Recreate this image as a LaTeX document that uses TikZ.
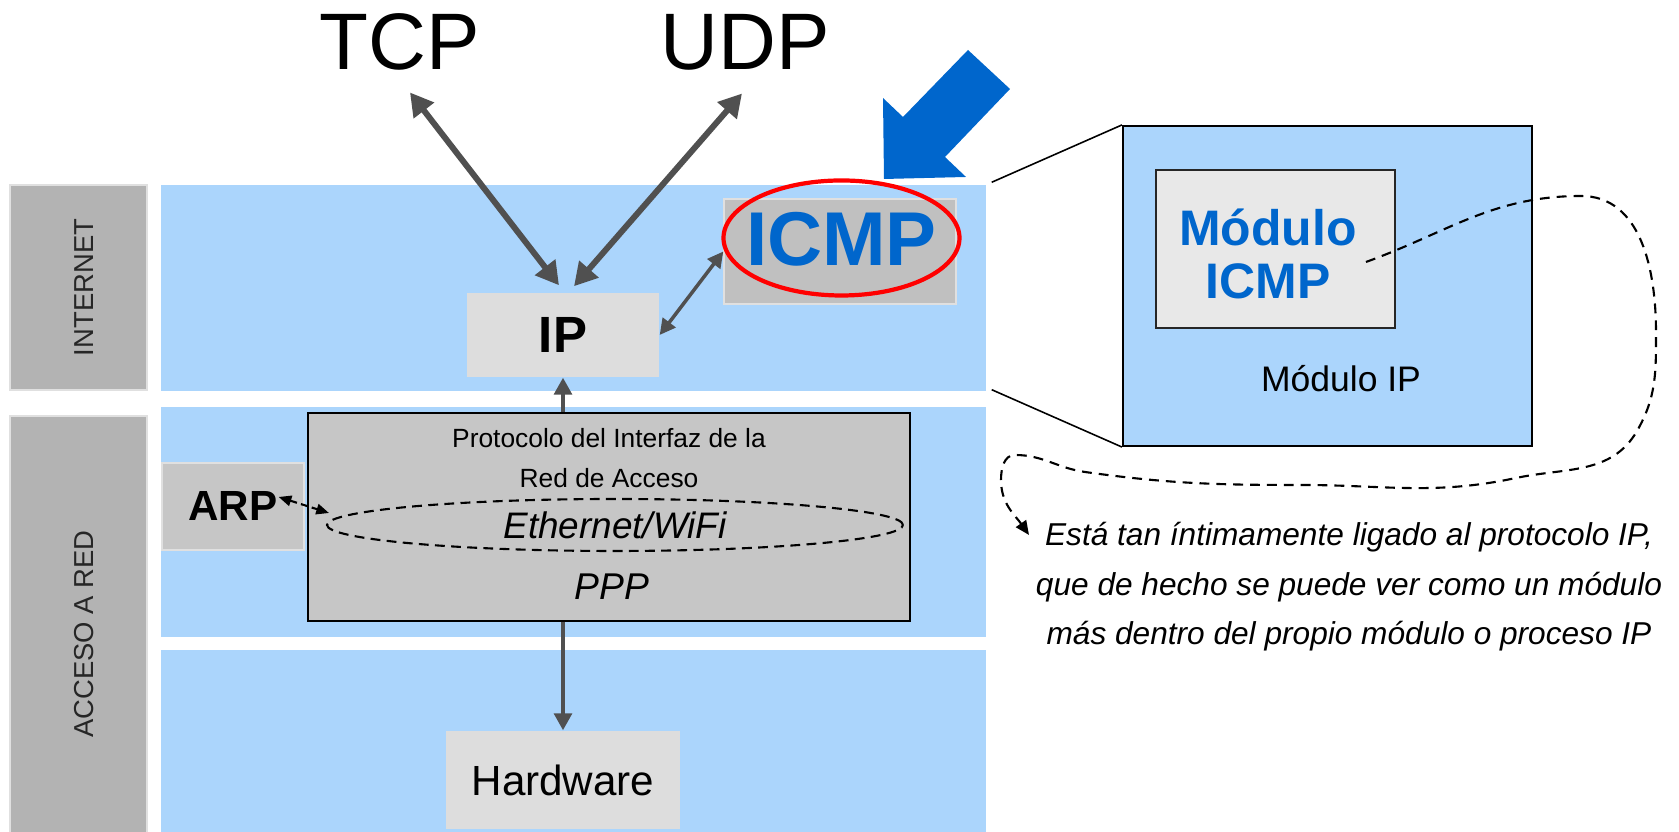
\documentclass[tikz,border=0pt]{standalone}
\usepackage{fontspec}
\setmainfont{Liberation Sans}
\usepackage{tikz}
\usetikzlibrary{arrows.meta,shapes.geometric,calc}
\definecolor{bandblue}{RGB}{171,213,252}
\definecolor{labelgray}{RGB}{179,179,179}
\definecolor{boxlight}{RGB}{221,221,221}
\definecolor{boxmid}{RGB}{198,198,198}
\definecolor{icmpgray}{RGB}{192,192,192}
\definecolor{innergray}{RGB}{232,232,232}
\definecolor{arrowgray}{RGB}{80,80,80}
\definecolor{icmpblue}{RGB}{0,102,204}
\newcommand{\fsz}[1]{\fontsize{#1pt}{#1pt}\selectfont}

\begin{document}
\begin{tikzpicture}[
  band/.style={fill=bandblue,inner sep=0,minimum width=8.25cm},
  layerbox/.style={fill=labelgray,draw=black!12,line width=0.4pt,inner sep=0,minimum width=1.37cm},
  layertxt/.style={rotate=90,inner sep=0,text=black!85,font=\fsz{7.8}},
  lightbox/.style={fill=boxlight,inner sep=0},
  fatarrow/.style={draw=arrowgray,line width=1.7pt,{Triangle[length=6.5pt,width=7pt]}-{Triangle[length=6.5pt,width=7pt]}},
  midarrow/.style={draw=arrowgray,line width=1pt,{Triangle[length=4.5pt,width=4.5pt]}-{Triangle[length=4.5pt,width=4.5pt]}},
  uparrow/.style={draw=arrowgray,line width=1.1pt,-{Triangle[length=4.8pt,width=5pt]}},
  dashline/.style={line width=0.6pt,dash pattern=on 2.8pt off 1.8pt},
  zoomline/.style={line width=0.45pt},
  notetxt/.style={anchor=base,inner sep=0,font=\fsz{9}\itshape}]
\useasboundingbox (0,0) rectangle (16.79,8.32);

\node[band,minimum height=2.06cm] (inet) at (5.735,5.44) {};
\node[band,minimum height=2.30cm] (acc) at (5.735,3.10) {};
\node[band,minimum height=1.92cm] (hwband) at (5.735,0.86) {};
\node[layerbox,minimum height=2.05cm] (lblinet) at (0.785,5.445) {};
\node[layerbox,minimum height=4.26cm] (lblacc) at (0.785,2.03) {};
\node[layertxt] (inettxt) at (0.84,5.445) {INTERNET};
\node[layertxt] (acctxt) at (0.84,1.98) {ACCESO A RED};

\node[anchor=base,inner sep=0,font=\fsz{22.8}] (tcp) at (3.995,7.62) {TCP};
\node[anchor=base,inner sep=0,font=\fsz{22.8}] (udp) at (7.45,7.62) {UDP};

\node[lightbox,minimum width=1.92cm,minimum height=0.84cm,font=\fsz{14.5}\bfseries] (ip) at (5.63,4.97) {IP};
\node[fill=icmpgray,draw=black!12,inner sep=0,minimum width=2.32cm,minimum height=1.05cm] (icmpbox) at (8.40,5.805) {};
\node[inner sep=0,text=icmpblue,font=\fsz{21.7}\bfseries] (icmp) at (8.415,5.925) {ICMP};
\node[ellipse,draw=red,line width=1.2pt,inner sep=0,minimum width=2.36cm,minimum height=1.15cm] (icmpring) at (8.415,5.94) {};

\node[fill=boxmid,draw,line width=0.7pt,inner sep=0,minimum width=6.02cm,minimum height=2.08cm] (proto) at (6.09,3.15) {};
\node[inner sep=0,font=\fsz{7.5}] (protoa) at (6.09,3.94) {Protocolo del Interfaz de la};
\node[inner sep=0,font=\fsz{7.5}] (protob) at (6.09,3.54) {Red de Acceso};
\node[ellipse,draw,dashline,inner sep=0,minimum width=5.76cm,minimum height=0.52cm,font=\fsz{10.5}\itshape] (eth) at (6.15,3.07) {Ethernet/WiFi};
\node[inner sep=0,font=\fsz{10.6}\itshape] (ppp) at (6.12,2.45) {PPP};
\node[fill=boxmid,draw=black!12,line width=0.4pt,inner sep=0,minimum width=1.42cm,minimum height=0.87cm,font=\fsz{12}\bfseries] (arp) at (2.33,3.255) {ARP};
\node[lightbox,minimum width=2.34cm,minimum height=0.98cm,font=\fsz{12}] (hw) at (5.63,0.52) {Hardware};

\draw[fatarrow] ($(tcp.south)+(0.105,-0.21)$) -- ($(ip.north)+(-0.04,0.07)$);
\draw[fatarrow] ($(udp.south)+(-0.03,-0.22)$) -- ($(ip.north)+(0.11,0.06)$);
\draw[midarrow] (ip.east) -- (icmpbox.west);
\draw[uparrow] (ip.south |- proto.north) -- (ip.south);
\draw[uparrow] (hw.north |- proto.south) -- (hw.north);
\draw[line width=0.6pt,dash pattern=on 2pt off 1.2pt,{Triangle[length=3.6pt,width=3pt]}-{Triangle[length=3.6pt,width=3pt]}] ($(arp.east)+(-0.26,0.095)$) -- ($(eth.west)+(0.03,0.12)$);

\fill[icmpblue] (8.84,6.53) -- (8.83,7.34) -- (9.03,7.15) -- (9.68,7.82) -- (10.10,7.43) -- (9.45,6.75) -- (9.66,6.55) -- cycle;

\node[draw,line width=0.6pt,fill=bandblue,inner sep=0,minimum width=4.09cm,minimum height=3.20cm] (ipmod) at (13.275,5.46) {};
\node[draw=black!85,line width=0.6pt,fill=innergray,inner sep=0,minimum width=2.39cm,minimum height=1.58cm] (icmpmod) at (12.755,5.83) {};
\node[inner sep=0,align=center,text=icmpblue,font=\fontsize{14.2pt}{15.1pt}\selectfont\bfseries] (icmpmodtxt) at (12.68,5.785) {Módulo\\ICMP};
\node[anchor=base,inner sep=0,font=\fsz{10.1}] (ipmodtxt) at (13.41,4.40) {Módulo IP};
\draw[zoomline] ($(inet.north east)+(0.05,0.02)$) -- (ipmod.north west);
\draw[zoomline] ($(inet.south east)+(0.05,0.02)$) -- (ipmod.south west);

\node[notetxt] (notea) at (13.49,2.86) {Está tan íntimamente ligado al protocolo IP,};
\node[notetxt] (noteb) at (13.49,2.36) {que de hecho se puede ver como un módulo};
\node[notetxt] (notec) at (13.49,1.87) {más dentro del propio módulo o proceso IP};

\coordinate (curvestart) at (13.66,5.70);
\coordinate (curveend) at (10.29,2.97);
\draw[dashline,dash pattern=on 2.8pt off 2pt,-{Triangle[length=4pt,width=3.5pt]}] (curvestart) to[out=20,in=180] (15.81,6.36) to[out=0,in=90] (16.56,5.00) to[out=-90,in=60] (16.37,4.01) to[out=-120,in=12] (15.16,3.54) to[out=192,in=0] (13.01,3.47) to[out=180,in=-8] (10.85,3.60) to[out=172,in=0] (10.15,3.77) to[out=180,in=90] (10.01,3.52) to[out=-90,in=125] (curveend);
\end{tikzpicture}
\end{document}
